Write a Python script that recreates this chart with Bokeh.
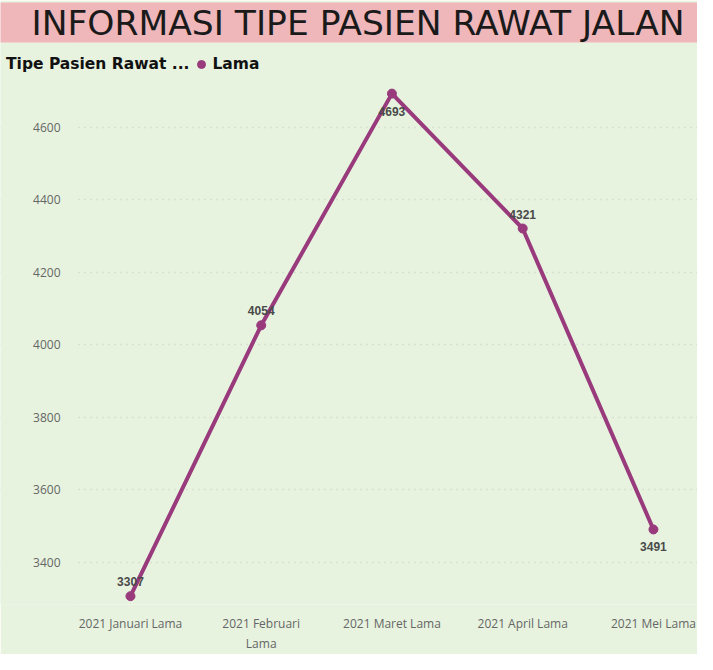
from bokeh.plotting import figure
from bokeh.models import (ColumnDataSource, FixedTicker, Legend, LegendItem, Range1d, Title,
                          BoxAnnotation)
from bokeh.core.properties import value
from bokeh.embed import file_html
from bokeh.resources import INLINE

# ---- data ----
title_text = "INFORMASI TIPE PASIEN RAWAT JALAN"
legend_title = "Tipe Pasien Rawat ..."
series_name = "Lama"
categories = ["2021 Januari Lama", "2021 Februari\nLama", "2021 Maret Lama", "2021 April Lama", "2021 Mei Lama"]
lama = [3307, 4054, 4693, 4321, 3491]
label_side = ["above", "above", "below", "above", "below"]
y_ticks = [3400, 3600, 3800, 4000, 4200, 4400, 4600]

LINE = "#983A7C"
BG = "#E7F3DF"
PINK = "#EFB7BA"
AXIS_X = -0.428   # where the value axis sits (left edge of the plotting area)

xs = list(range(len(categories)))
src = ColumnDataSource(dict(
    x=xs, y=lama, lbl=[str(v) for v in lama],
    base=["bottom" if s == "above" else "top" for s in label_side],
    off=[-10 if s == "above" else 13 for s in label_side],
))

p = figure(width=697, height=654, output_backend="svg", toolbar_location=None,
           x_range=Range1d(-0.994, 4.337), y_range=Range1d(3284, 4834),
           background_fill_color=BG, border_fill_color=BG,
           min_border_left=0, min_border_right=0, min_border_bottom=50, min_border_top=0)
p.outline_line_color = None

p.title = Title(text=title_text, align="left", offset=0, standoff=0,
                text_font="DejaVu Sans", text_font_size="34.5px", text_font_style="normal",
                text_color="#1a1a1a", background_fill_color=PINK,
                padding=dict(left=31, right=20, top=0, bottom=0))

p.xgrid.visible = False
p.ygrid.grid_line_color = "#c6d1c1"
p.ygrid.grid_line_dash = "1 5"
p.ygrid.grid_line_width = 1.5
# keep the gridlines out of the tick-label strip
p.add_layout(BoxAnnotation(right=AXIS_X, fill_color=BG, fill_alpha=1, line_color=None,
                           level="underlay"))

p.line("x", "y", source=src, line_color=LINE, line_width=4)
dots = p.scatter("x", "y", source=src, size=9, fill_color=LINE, line_color=LINE)
blank = p.scatter(x=[], y=[], size=0, fill_alpha=0, line_alpha=0)
p.text("x", "y", text="lbl", source=src, text_align="center", text_baseline="base",
       y_offset="off", text_font=value("Liberation Sans"), text_font_size="12px",
       text_font_style="bold", text_color="#4a4a4a")

leg = Legend(items=[LegendItem(label=legend_title, renderers=[blank]),
                    LegendItem(label=series_name, renderers=[dots])],
             location=(-15, 530), orientation="horizontal",
             background_fill_alpha=0, border_line_color=None,
             label_text_font="DejaVu Sans", label_text_font_size="15.5px",
             label_text_font_style="bold", label_text_color="#111111",
             glyph_width=20, glyph_height=20, label_standoff=1, spacing=2,
             padding=0, margin=0)
p.add_layout(leg, "center")

p.yaxis.fixed_location = AXIS_X
p.yaxis.ticker = FixedTicker(ticks=y_ticks)
p.yaxis.axis_line_color = None
p.yaxis.major_tick_line_color = None
p.yaxis.minor_tick_line_color = None
p.yaxis.major_label_text_font = "Open Sans"
p.yaxis.major_label_text_font_size = "12px"
p.yaxis.major_label_text_color = "#666666"
p.yaxis.major_label_standoff = 8

p.xaxis.ticker = FixedTicker(ticks=xs)
p.xaxis.major_label_overrides = {i: c for i, c in enumerate(categories)}
p.xaxis.axis_line_color = None
p.xaxis.major_tick_line_color = None
p.xaxis.minor_tick_line_color = None
p.xaxis.major_label_text_font = "Open Sans"
p.xaxis.major_label_text_font_size = "12px"
p.xaxis.major_label_text_color = "#666666"
p.xaxis.major_label_standoff = 4

open("out.html", "w").write(file_html(p, INLINE))
